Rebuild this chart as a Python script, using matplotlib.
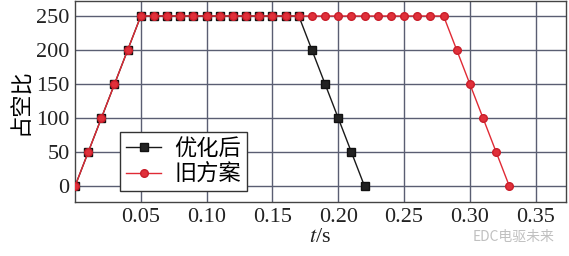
import matplotlib.pyplot as plt

# data
t_opt = [0.00, 0.01, 0.02, 0.03, 0.04, 0.05, 0.06, 0.07, 0.08, 0.09, 0.10,
         0.11, 0.12, 0.13, 0.14, 0.15, 0.16, 0.17, 0.18, 0.19, 0.20, 0.21, 0.22]
duty_opt = [0, 50, 100, 150, 200, 250, 250, 250, 250, 250, 250,
            250, 250, 250, 250, 250, 250, 250, 200, 150, 100, 50, 0]

t_old = [0.00, 0.01, 0.02, 0.03, 0.04, 0.05, 0.06, 0.07, 0.08, 0.09, 0.10,
         0.11, 0.12, 0.13, 0.14, 0.15, 0.16, 0.17, 0.18, 0.19, 0.20, 0.21,
         0.22, 0.23, 0.24, 0.25, 0.26, 0.27, 0.28, 0.29, 0.30, 0.31, 0.32, 0.33]
duty_old = [0, 50, 100, 150, 200, 250, 250, 250, 250, 250, 250,
            250, 250, 250, 250, 250, 250, 250, 250, 250, 250, 250,
            250, 250, 250, 250, 250, 250, 250, 200, 150, 100, 50, 0]

x_ticks = [0.05, 0.10, 0.15, 0.20, 0.25, 0.30, 0.35]
y_ticks = [0, 50, 100, 150, 200, 250]
labels = ["优化后", "旧方案"]

plt.rcParams['font.family'] = ['Liberation Serif', 'Noto Sans CJK SC']
plt.rcParams['mathtext.fontset'] = 'stix'

fig = plt.figure(figsize=(5.69, 2.56), dpi=100)
ax = fig.add_axes([75 / 569, 54 / 256, 491 / 569, 201 / 256])

ax.plot(t_opt, duty_opt, color='#1a1a1a', lw=1.0, marker='s', ms=5.5,
        mfc='#222222', mec='#111111', label=labels[0], zorder=3)
ax.plot(t_old, duty_old, color='#e02a35', lw=1.0, marker='o', ms=5.5,
        mfc='#e0303a', mec='#c81e2a', label=labels[1], zorder=4)

ax.set_xlim(0, 0.373)
ax.set_ylim(-23, 272)
ax.set_xticks(x_ticks)
ax.set_xticklabels([f"{v:.2f}" for v in x_ticks])
ax.set_yticks(y_ticks)
ax.tick_params(length=0, labelsize=16, pad=4, colors='#222222')
ax.grid(True, color='#5a5e72', lw=1.0)
ax.set_axisbelow(True)
for s in ax.spines.values():
    s.set_color('#444444')
    s.set_linewidth(1.0)

ax.set_xlabel(r"$t$/s", fontsize=16, labelpad=1, color='#222222')
ax.set_ylabel("占空比", fontsize=16, family=['Noto Sans CJK SC'], labelpad=3)

leg = ax.legend(loc='lower left', bbox_to_anchor=(0.092, 0.055),
                prop={'family': ['Noto Sans CJK SC'], 'size': 16},
                fancybox=False, framealpha=1, edgecolor='#333333',
                borderaxespad=0, handlelength=1.6, borderpad=0.25,
                labelspacing=0.1, handletextpad=0.6)
leg.get_frame().set_linewidth(1.0)

fig.text(0.975, 0.075, "EDC电驱未来", ha='right', va='center', fontsize=10,
         color='#c0c0c0', family=['Noto Sans CJK SC'])

fig.savefig("out.png", dpi=100)
